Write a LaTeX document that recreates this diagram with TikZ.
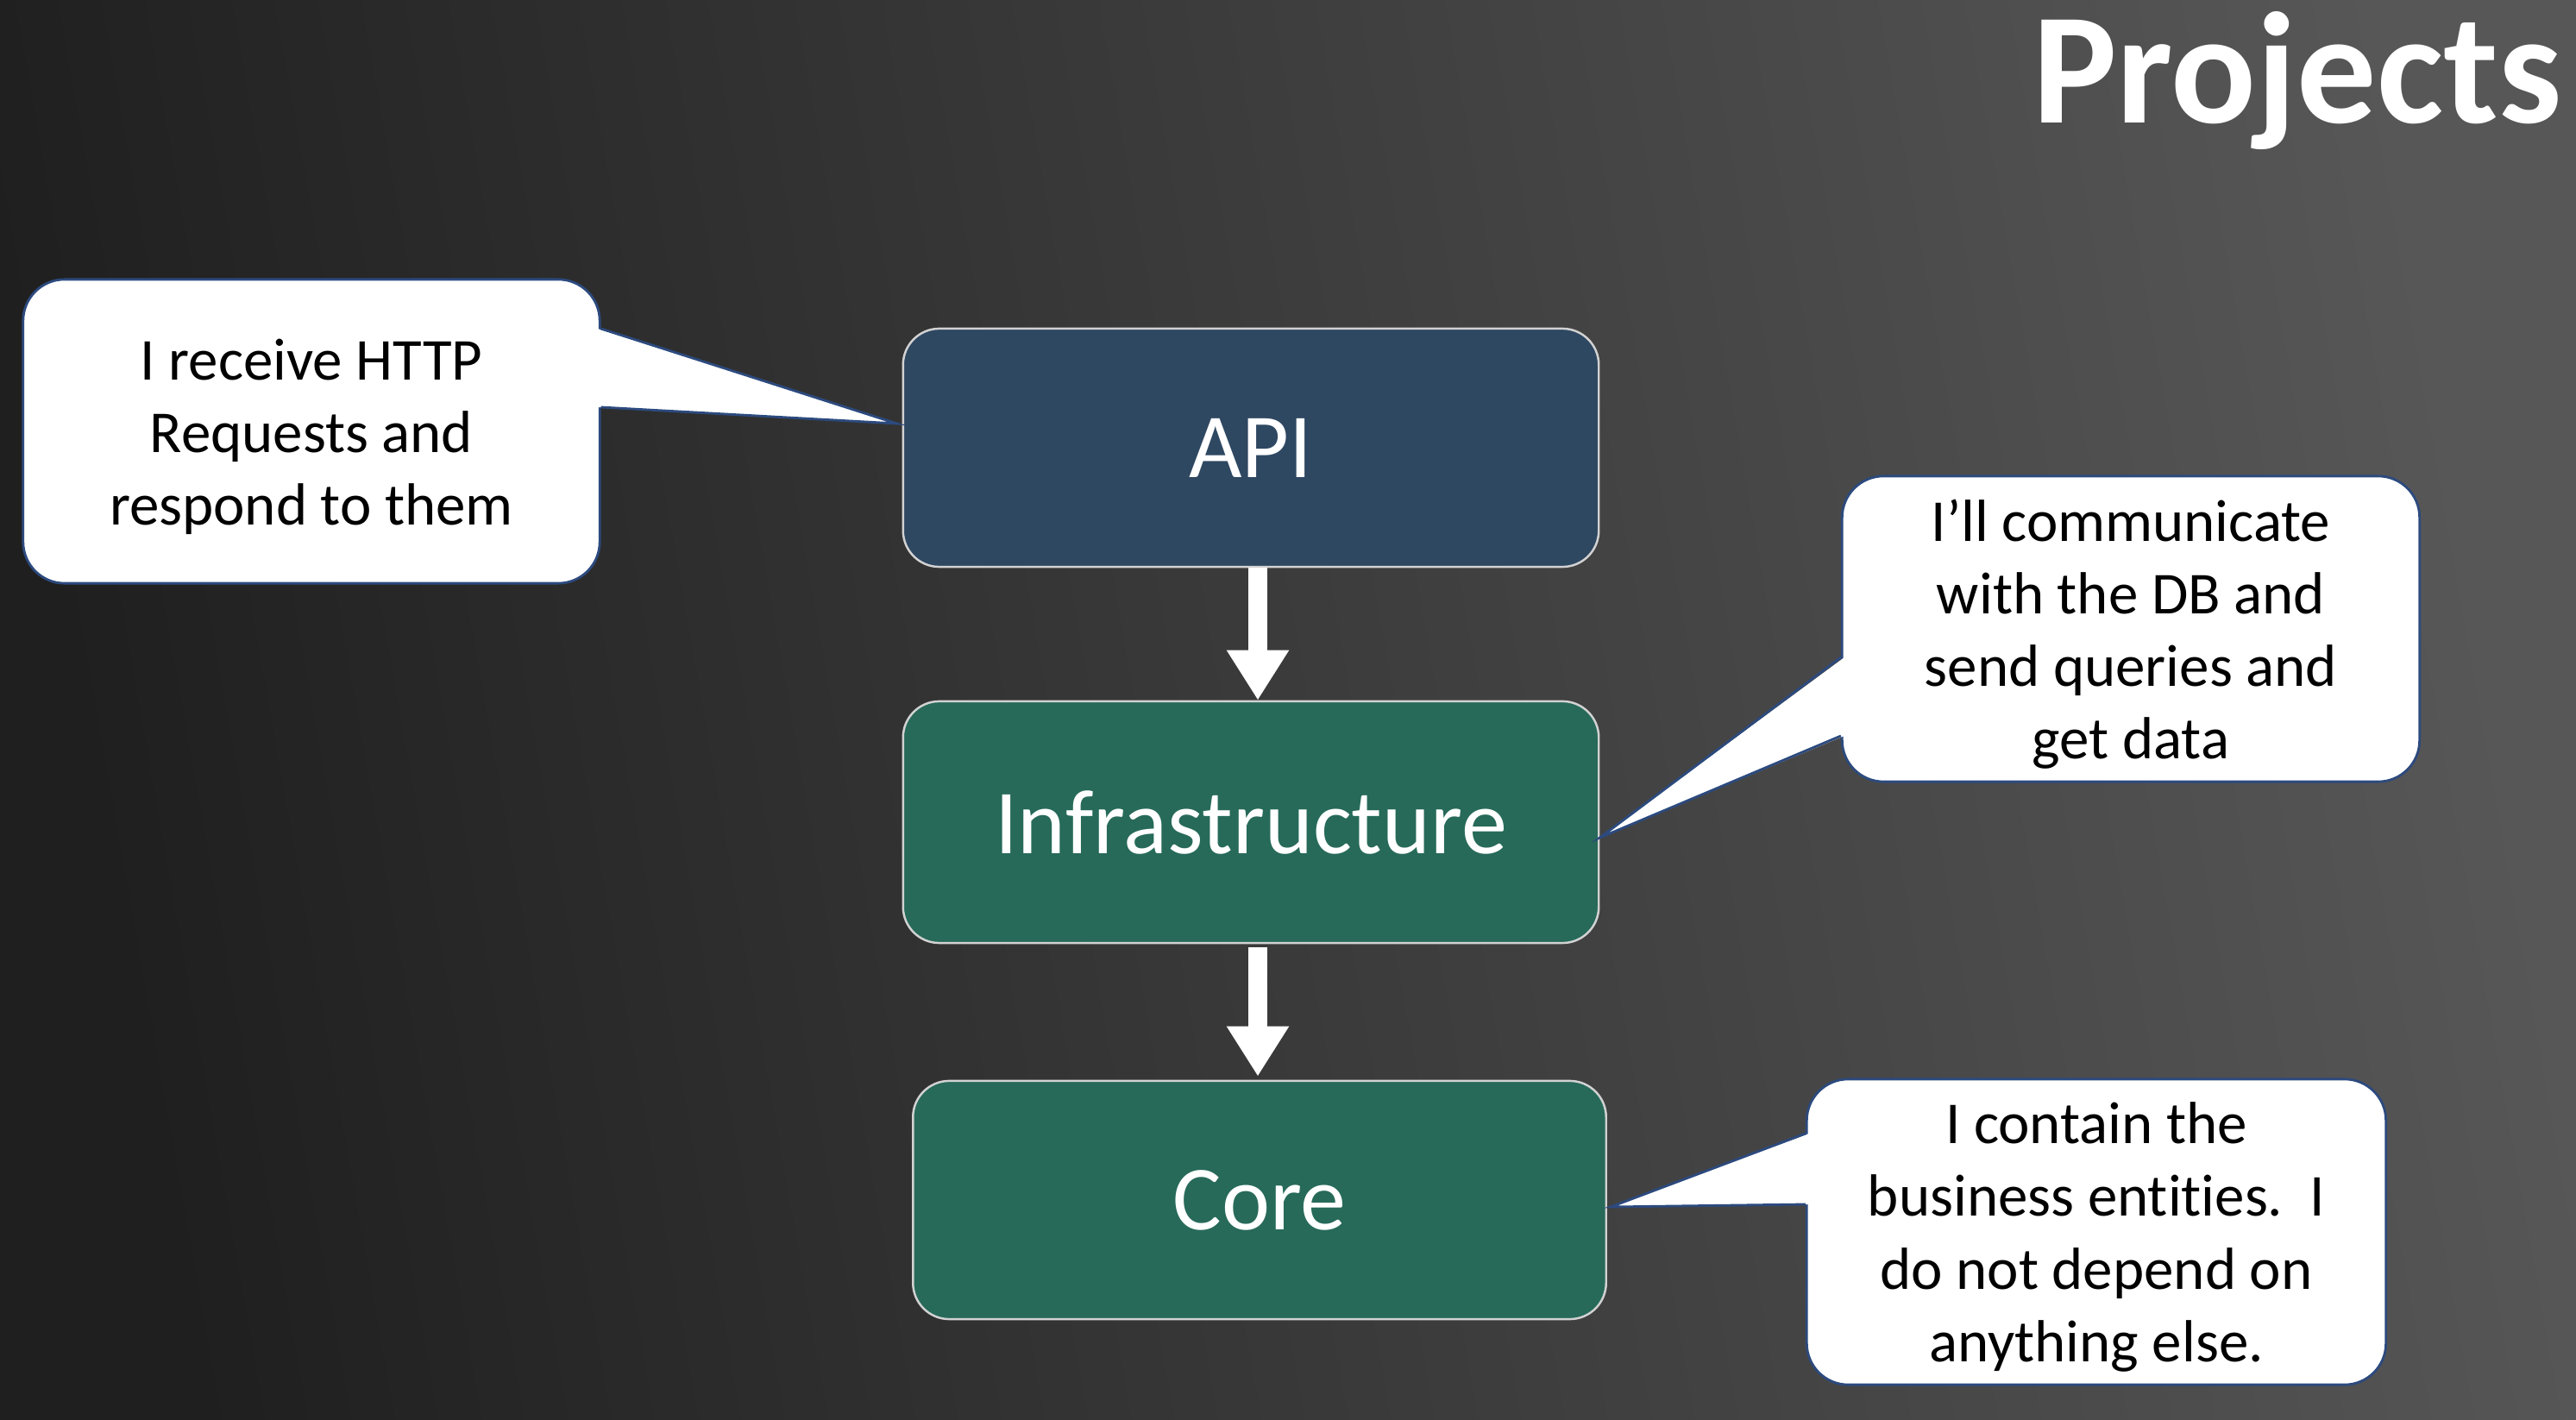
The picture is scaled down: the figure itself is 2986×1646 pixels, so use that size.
\documentclass[tikz,border=0pt]{standalone}
\usepackage{fontspec}
\setmainfont[Ligatures=NoCommon]{Carlito}
\usetikzlibrary{calc,arrows.meta}
\definecolor{bgL}{HTML}{1F1F1F}
\definecolor{bgR}{HTML}{575757}
\definecolor{apiblue}{HTML}{2F4862}
\definecolor{layergreen}{HTML}{276A59}
\definecolor{boxline}{HTML}{D2D2D2}
\definecolor{calloutline}{HTML}{2C4A7E}
\tikzset{
  layer/.style={draw=boxline, line width=0.7pt, rounded corners=0.42cm, text=white,
    font=\fontsize{30.2pt}{36pt}\selectfont, inner sep=0pt},
  callout/.style={draw=calloutline, fill=white, line width=0.8pt, rounded corners=0.48cm, inner sep=0pt},
  callouttext/.style={align=center, text=black, font=\fontsize{19.6pt}{23.9pt}\selectfont, inner sep=0pt, yshift=-0.06cm},
  pointerline/.style={draw=calloutline, line width=0.8pt, line join=miter},
  flow/.style={draw=white, line width=6.5pt, -{Triangle[width=19.4pt,length=16.5pt]}}
}
\begin{document}
\begin{tikzpicture}[x=0.01cm, y=-0.01cm]
\useasboundingbox (0,0) rectangle (2986,1646);
\shade[left color=bgL, right color=bgR, shading angle=100] (0,0) rectangle (2986,1646);

\node[anchor=base east, text=white, font=\bfseries\fontsize{52.3pt}{60pt}\selectfont] (title) at (2982,143) {Projects};

\node[layer, fill=apiblue, minimum width=8.06cm, minimum height=2.76cm] (api) at (1450,519) {API};
\node[layer, fill=layergreen, minimum width=8.06cm, minimum height=2.80cm] (infra) at (1450,953) {Infrastructure};
\node[layer, fill=layergreen, minimum width=8.03cm, minimum height=2.76cm] (core) at (1460,1391) {Core};

\draw[flow] ($(api.south)+(8,0)$) -- ($(infra.north)+(8,0)$);
\draw[flow] ($(infra.south)+(8,4)$) -- ($(core.north)+(-2,-4)$);

% callout 1
\node[callout, minimum width=6.68cm, minimum height=3.52cm,
  label={[callouttext]center:I receive HTTP\\Requests and\\respond to them}] (c1) at (361,500) {};
\coordinate (t1) at ($(api.west)+(-6,-28)$);
\fill[white] ($(c1.east)+(-4,-119)$) -- (t1) -- ($(c1.east)+(-4,-28)$) -- cycle;
\draw[pointerline] ($(c1.east)+(0,-119)$) -- (t1) -- ($(c1.east)+(0,-28)$);

% callout 2
\node[callout, minimum width=6.69cm, minimum height=3.54cm,
  label={[callouttext]center:I’ll communicate\\with the DB and\\send queries and\\get data}] (c2) at (2470,729) {};
\coordinate (t2) at ($(infra.east)+(0,18)$);
\fill[white] ($(c2.west)+(4,33)$) -- (t2) -- ($(c2.west)+(4,124)$) -- cycle;
\draw[pointerline] ($(c2.west)+(0,33)$) -- (t2) -- ($(c2.west)+(0,124)$);

% callout 3
\node[callout, minimum width=6.71cm, minimum height=3.54cm,
  label={[callouttext]center:I contain the\\business entities.\ \ I\\do not depend on\\anything else.}] (c3) at (2430,1428) {};
\coordinate (t3) at ($(core.east)+(4,8)$);
\fill[white] ($(c3.west)+(4,-114)$) -- (t3) -- ($(c3.west)+(4,-32)$) -- cycle;
\draw[pointerline] ($(c3.west)+(0,-114)$) -- (t3) -- ($(c3.west)+(0,-32)$);
\end{tikzpicture}
\end{document}
